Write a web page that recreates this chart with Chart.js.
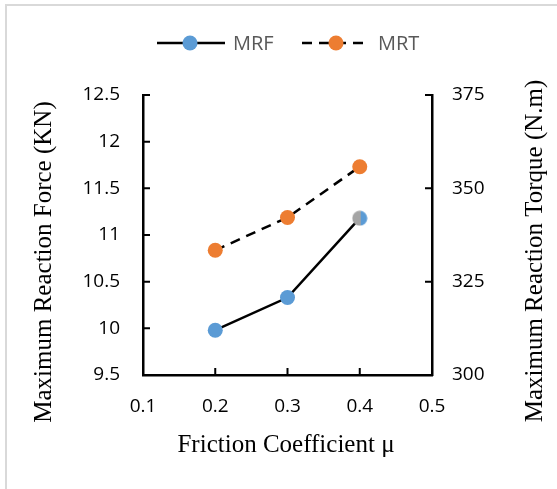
<!DOCTYPE html>
<html>
<head>
<meta charset="utf-8">
<script src="https://cdn.jsdelivr.net/npm/chart.js@4.4.1/dist/chart.umd.min.js"></script>
<style>
  html, body { margin: 0; padding: 0; background: #fff; }
  #wrap { position: relative; width: 557px; height: 489px; overflow: hidden; }
  #frame { position: absolute; left: 5px; top: 4px; right: -10px; bottom: -10px;
           border-left: 2px solid #d9d9d9; border-top: 2px solid #d9d9d9; }
  #box { position: absolute; left: 0; top: 0; width: 557px; height: 489px; }
</style>
</head>
<body>
<div id="wrap">
  <div id="frame"></div>
  <div id="box"><canvas id="chart"></canvas></div>
</div>
<script>
const frictionCoef = [0.2, 0.3, 0.4];
const mrfValues = [9.98, 10.33, 11.18];
const mrtValues = [333.4, 342.2, 355.8];
const coefRange = [0.1, 0.5, 0.1];
const forceRange = [9.5, 12.5, 0.5];
const torqueRange = [300, 375, 25];
const seriesNames = ['MRF', 'MRT'];

const colors = {
    blue: '#5B9BD5',
    orange: '#ED7D31',
    gray: '#A5A5A5',
    legendText: '#595959',
};

const tickFont = { family: '"Open Sans"', size: 19 };
const titleFont = '25px "Liberation Serif"';

// last MRF marker is half gray / half blue in the original
const halfMarker = document.createElement('canvas');
halfMarker.width = 16;
halfMarker.height = 16;
(() => {
    const c = halfMarker.getContext('2d');
    c.save();
    c.beginPath();
    c.arc(8, 8, 7.5, 0, Math.PI * 2);
    c.clip();
    c.fillStyle = colors.gray;
    c.fillRect(0, 0, 9, 16);
    c.fillStyle = colors.blue;
    c.fillRect(9, 0, 7, 16);
    c.restore();
})();

const toPoints = (xs, ys) => xs.map((x, i) => ({ x: x, y: ys[i] }));

const innerTicks = {
    id: 'innerTicks',
    afterDraw(chart) {
        const ctx = chart.ctx;
        const area = chart.chartArea;
        const len = 7;
        ctx.save();
        ctx.strokeStyle = '#000';
        ctx.lineWidth = 2;
        ctx.beginPath();
        chart.scales.y.ticks.forEach(t => {
            const p = chart.scales.y.getPixelForValue(t.value);
            ctx.moveTo(area.left, p);
            ctx.lineTo(area.left + len, p);
        });
        chart.scales.y1.ticks.forEach(t => {
            const p = chart.scales.y1.getPixelForValue(t.value);
            ctx.moveTo(area.right - len, p);
            ctx.lineTo(area.right, p);
        });
        chart.scales.x.ticks.forEach(t => {
            const p = chart.scales.x.getPixelForValue(t.value);
            ctx.moveTo(p, area.bottom);
            ctx.lineTo(p, area.bottom - len);
        });
        ctx.stroke();
        ctx.restore();
    }
};

const titlesAndLegend = {
    id: 'titlesAndLegend',
    afterDraw(chart) {
        const ctx = chart.ctx;
        ctx.save();
        ctx.fillStyle = '#000';
        ctx.font = titleFont;
        ctx.textAlign = 'center';
        ctx.textBaseline = 'middle';
        ctx.fillText('Friction Coefficient \u03bc', 286, 445);

        ctx.save();
        ctx.translate(44, 262);
        ctx.rotate(-Math.PI / 2);
        ctx.fillText('Maximum Reaction Force (KN)', 0, 0);
        ctx.restore();

        ctx.save();
        ctx.translate(535, 251);
        ctx.rotate(-Math.PI / 2);
        ctx.fillText('Maximum Reaction Torque (N.m)', 0, 0);
        ctx.restore();

        // legend
        const ly = 43;
        ctx.strokeStyle = '#000';
        ctx.lineWidth = 2.5;
        ctx.beginPath();
        ctx.moveTo(157, ly);
        ctx.lineTo(225, ly);
        ctx.stroke();
        ctx.fillStyle = colors.blue;
        ctx.beginPath();
        ctx.arc(190, ly, 7.5, 0, Math.PI * 2);
        ctx.fill();

        ctx.setLineDash([10, 7]);
        ctx.beginPath();
        ctx.moveTo(302, ly);
        ctx.lineTo(370, ly);
        ctx.stroke();
        ctx.setLineDash([]);
        ctx.fillStyle = colors.orange;
        ctx.beginPath();
        ctx.arc(336, ly, 7.5, 0, Math.PI * 2);
        ctx.fill();

        ctx.fillStyle = colors.legendText;
        ctx.font = '20px "Open Sans"';
        ctx.textAlign = 'left';
        ctx.fillText(seriesNames[0], 233, ly + 1);
        ctx.fillText(seriesNames[1], 378, ly + 1);
        ctx.restore();
    }
};

new Chart(document.getElementById('chart'), {
    type: 'line',
    data: {
        datasets: [{
            label: seriesNames[0],
            data: toPoints(frictionCoef, mrfValues),
            yAxisID: 'y',
            borderColor: '#000',
            borderWidth: 2.5,
            pointStyle: ['circle', 'circle', halfMarker],
            pointRadius: 7.5,
            pointHoverRadius: 7.5,
            pointBackgroundColor: colors.blue,
            pointBorderWidth: 0,
            tension: 0
        }, {
            label: seriesNames[1],
            data: toPoints(frictionCoef, mrtValues),
            yAxisID: 'y1',
            borderColor: '#000',
            borderWidth: 2.5,
            borderDash: [10, 7],
            pointRadius: 7.5,
            pointHoverRadius: 7.5,
            pointBackgroundColor: colors.orange,
            pointBorderWidth: 0,
            tension: 0
        }]
    },
    options: {
        responsive: true,
        maintainAspectRatio: false,
        animation: false,
        layout: { padding: { top: 95, left: 0, right: 0, bottom: 0 } },
        plugins: {
            legend: { display: false },
            tooltip: { enabled: false }
        },
        scales: {
            x: {
                type: 'linear',
                min: coefRange[0],
                max: coefRange[1],
                grid: { display: false, drawTicks: false },
                border: { display: true, color: '#000', width: 2.5 },
                ticks: {
                    stepSize: coefRange[2],
                    padding: 20,
                    color: '#000',
                    font: tickFont,
                    callback: v => v.toFixed(1)
                },
                afterFit: s => { s.height = 114; }
            },
            y: {
                position: 'left',
                min: forceRange[0],
                max: forceRange[1],
                grid: { display: false, drawTicks: false },
                border: { display: true, color: '#000', width: 2.5 },
                ticks: {
                    stepSize: forceRange[2],
                    padding: 23,
                    color: '#000',
                    font: tickFont,
                    callback: v => String(v)
                },
                afterFit: s => { s.width = 143; }
            },
            y1: {
                position: 'right',
                min: torqueRange[0],
                max: torqueRange[1],
                grid: { display: false, drawTicks: false },
                border: { display: true, color: '#000', width: 2.5 },
                ticks: {
                    stepSize: torqueRange[2],
                    padding: 20,
                    color: '#000',
                    font: tickFont,
                    callback: v => String(v)
                },
                afterFit: s => { s.width = 125; }
            }
        }
    },
    plugins: [innerTicks, titlesAndLegend]
});
</script>
</body>
</html>
